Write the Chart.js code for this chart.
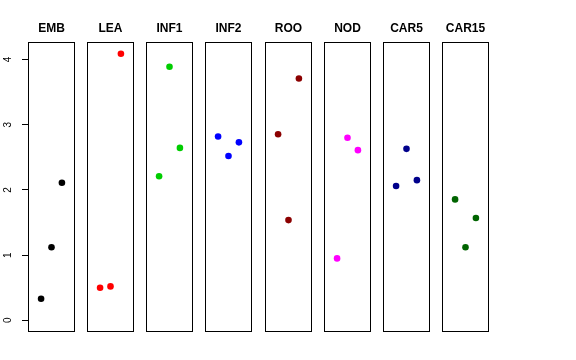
<!DOCTYPE html>
<html>
<head>
<meta charset="utf-8">
<script src="https://cdn.jsdelivr.net/npm/chart.js@4/dist/chart.umd.min.js"></script>
<style>
  body { margin: 0; background: #fff; }
  #wrap { position: relative; width: 576px; height: 360px; }
  #wrap canvas { position: absolute; top: 0; }
</style>
</head>
<body>
<div id="wrap"></div>
<script>
// panel names, colours and the three values in each panel (x = 1, 2, 3)
const panels = ["EMB", "LEA", "INF1", "INF2", "ROO", "NOD", "CAR5", "CAR15"];
const colors = ["#000000", "#ff0000", "#00cd00", "#0000ff", "#8b0000", "#ff00ff", "#00008b", "#006400"];
const xPos = [1, 2, 3];
const values = [
  [0.33, 1.12, 2.11],
  [0.50, 0.52, 4.09],
  [2.21, 3.89, 2.645],
  [2.82, 2.52, 2.73],
  [2.855, 1.537, 3.71],
  [0.95, 2.80, 2.61],
  [2.06, 2.63, 2.15],
  [1.855, 1.12, 1.57]
];
const yTicks = [0, 1, 2, 3, 4];

const wrap = document.getElementById("wrap");
const FONT = "'Liberation Sans', Arial, sans-serif";

// box around each panel + panel title centred over the box
const boxPlugin = {
  id: "box",
  afterDatasetsDraw(chart) {
    const a = chart.chartArea;
    const ctx = chart.ctx;
    ctx.save();
    ctx.strokeStyle = "#000";
    ctx.lineWidth = 1;
    ctx.strokeRect(Math.round(a.left) - 0.5, Math.round(a.top) - 0.5,
      Math.round(a.right - a.left) + 1, Math.round(a.bottom - a.top) + 1);
    ctx.fillStyle = "#000";
    ctx.font = "bold 12px " + FONT;
    ctx.textAlign = "center";
    ctx.textBaseline = "middle";
    ctx.fillText(chart.options.panelName, (a.left + a.right) / 2, 29);
    ctx.restore();
  }
};

// rotated y labels like base R
const yLabelPlugin = {
  id: "yLabels",
  afterDraw(chart) {
    const scale = chart.scales.y;
    if (!scale.options.display) return;
    const ctx = chart.ctx;
    ctx.save();
    ctx.fillStyle = "#000";
    ctx.font = "10px " + FONT;
    ctx.textAlign = "center";
    ctx.textBaseline = "middle";
    yTicks.forEach(v => {
      const y = scale.getPixelForValue(v);
      ctx.save();
      ctx.translate(8, y);
      ctx.rotate(-Math.PI / 2);
      ctx.fillText(String(v), 0, 0);
      ctx.restore();
    });
    ctx.restore();
  }
};

panels.forEach((name, i) => {
  const first = i === 0;
  const canvas = document.createElement("canvas");
  // left edge of the plotting box for this panel
  const boxLeft = Math.round(29 + 59.15 * i);
  const left = first ? 0 : boxLeft - 1;
  const width = first ? 75 : 47;
  canvas.width = width;
  canvas.height = 332;
  canvas.style.left = left + "px";
  wrap.appendChild(canvas);

  const yScale = {
    type: "linear",
    min: -0.164,
    max: 4.254,
    display: first,
    border: { display: false },
    grid: {
      drawOnChartArea: false,
      drawTicks: true,
      tickLength: 7,
      color: "#000",
      lineWidth: 1
    },
    ticks: {
      display: false,
      includeBounds: false,
      stepSize: 1
    }
  };
  if (first) yScale.afterFit = scale => { scale.width = 29; };

  new Chart(canvas.getContext("2d"), {
    type: "scatter",
    data: {
      datasets: [{
        data: xPos.map((x, j) => ({ x: x, y: values[i][j] })),
        backgroundColor: colors[i],
        borderColor: colors[i],
        pointRadius: 3.3,
        pointBorderWidth: 0,
        clip: false
      }]
    },
    options: {
      panelName: name,
      responsive: false,
      animation: false,
      events: [],
      layout: { autoPadding: false, padding: { left: first ? 0 : 1, right: 1, top: 43, bottom: 1 } },
      plugins: {
        legend: { display: false },
        tooltip: { enabled: false },
        title: { display: false }
      },
      scales: {
        x: { type: "linear", min: -0.16, max: 4.16, display: false },
        y: yScale
      }
    },
    plugins: [boxPlugin, yLabelPlugin]
  });
});
</script>
</body>
</html>
